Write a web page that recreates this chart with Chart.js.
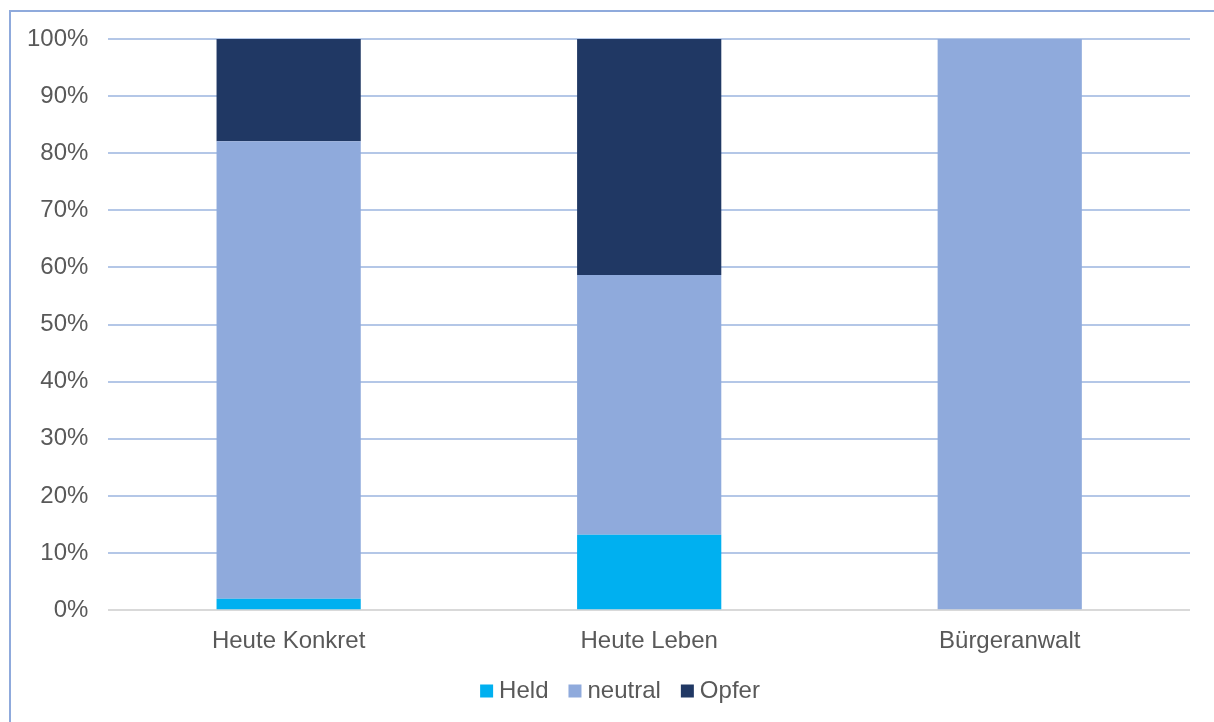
<!DOCTYPE html>
<html>
<head>
<meta charset="utf-8">
<script src="https://cdn.jsdelivr.net/npm/chart.js@4/dist/chart.umd.min.js"></script>
<style>
  html, body { margin: 0; padding: 0; background: #fff; }
  #wrap { position: relative; width: 1214px; height: 722px; overflow: hidden; }
  #frame { position: absolute; left: 9px; top: 10px; width: 1300px; height: 800px; border: 2px solid #8faadc; box-sizing: border-box; }
  canvas { position: absolute; left: 0; top: 0; }
</style>
</head>
<body>
<div id="wrap">
  <div id="frame"></div>
  <canvas id="c" width="1214" height="722"></canvas>
</div>
<script>
const categories = ["Heute Konkret", "Heute Leben", "Bürgeranwalt"];
const held = [2.0, 13.2, 0];
const neutral = [80.1, 45.5, 100];
const opfer = [17.9, 41.3, 0];
const yTicks = [0, 10, 20, 30, 40, 50, 60, 70, 80, 90, 100];

const FONT = "'Liberation Sans', Arial, sans-serif";
const TEXT = "#595959";
const FSIZE = 24;

// Custom legend (box-to-text gap smaller than Chart.js default)
const customLegend = {
  id: "customLegend",
  afterDraw(chart) {
    const ctx = chart.ctx;
    const box = 13, gapText = 6, gapItem = 20;
    ctx.save();
    ctx.font = FSIZE + "px " + FONT;
    ctx.textBaseline = "middle";
    const items = chart.data.datasets.map(ds => ({ label: ds.label, color: ds.backgroundColor, w: ctx.measureText(ds.label).width }));
    const total = items.reduce((s, it) => s + box + gapText + it.w, 0) + gapItem * (items.length - 1);
    let x = 620 - total / 2;
    const cy = 691;
    items.forEach(it => {
      ctx.fillStyle = it.color;
      ctx.fillRect(x, cy - box / 2, box, box);
      x += box + gapText;
      ctx.fillStyle = TEXT;
      ctx.fillText(it.label, x, cy);
      x += it.w + gapItem;
    });
    ctx.restore();
  }
};

new Chart(document.getElementById("c"), {
  type: "bar",
  data: {
    labels: categories,
    datasets: [
      { label: "Held", data: held, backgroundColor: "#00b0f0", barPercentage: 0.4, categoryPercentage: 1.0 },
      { label: "neutral", data: neutral, backgroundColor: "#8faadc", barPercentage: 0.4, categoryPercentage: 1.0 },
      { label: "Opfer", data: opfer, backgroundColor: "#203864", barPercentage: 0.4, categoryPercentage: 1.0 }
    ]
  },
  plugins: [customLegend],
  options: {
    responsive: false,
    animation: false,
    layout: { padding: { left: 7, right: 24, top: 39, bottom: 49 } },
    plugins: {
      tooltip: { enabled: false },
      legend: { display: false }
    },
    scales: {
      x: {
        stacked: true,
        grid: { display: false, drawTicks: false },
        border: { display: false },
        ticks: { color: TEXT, font: { family: FONT, size: FSIZE }, padding: 17 }
      },
      y: {
        stacked: true,
        min: 0, max: 100,
        afterBuildTicks: (axis) => { axis.ticks = yTicks.map(v => ({ value: v })); },
        grid: {
          drawTicks: false,
          lineWidth: 2,
          color: (ctx) => ctx.index === 0 ? "#d9d9d9" : "#b4c7e7"
        },
        border: { display: false },
        ticks: {
          color: TEXT, font: { family: FONT, size: FSIZE }, padding: 20,
          callback: (v) => v + "%"
        }
      }
    }
  }
});
</script>
</body>
</html>
